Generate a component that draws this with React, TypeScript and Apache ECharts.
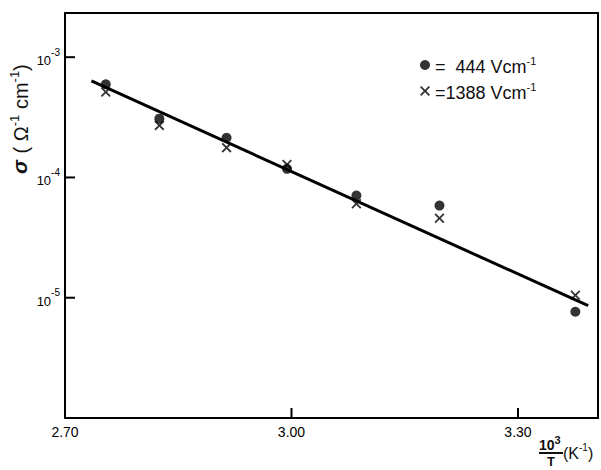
import React, { useEffect, useRef } from "react";
import * as echarts from "echarts";

const xTicks = [2.7, 3.0, 3.3];
const yDecades = [1e-3, 1e-4, 1e-5];
const tempX = [2.754, 2.825, 2.914, 2.994, 3.086, 3.196, 3.376];
const sigma444 = [5.96e-4, 3.08e-4, 2.14e-4, 1.18e-4, 7.08e-5, 5.84e-5, 7.64e-6];
const sigma1388 = [5.14e-4, 2.71e-4, 1.77e-4, 1.28e-4, 6.04e-5, 4.58e-5, 1.05e-5];
const fitX = [2.735, 3.393];
const fitY = [6.34e-4, 8.58e-6];
const seriesNames = ["444", "1388"];

const CROSS = "path://M0,1.3 L1.3,0 L5,3.7 L8.7,0 L10,1.3 L6.3,5 L10,8.7 L8.7,10 L5,6.3 L1.3,10 L0,8.7 L3.7,5 Z";
const FONT = "Liberation Sans";

export default function App() {
  const ref = useRef<HTMLDivElement>(null);
  useEffect(() => {
    document.body.style.margin = "0";
    const chart = echarts.init(ref.current!, null, { renderer: "svg" });
    const expOf = (v: number) => Math.round(Math.log10(v));
    const xRange = { min: 2.7, max: 3.406, interval: 0.3 };
    const yRange = { min: 1e-6, max: 2.33e-3 };
    const frameLine = { show: true, onZero: false, lineStyle: { color: "#000", width: 2 } };
    const tickLen = 10;
    const staticGraphics: any[] = [
      {
        type: "text",
        x: 7,
        y: 174,
        rotation: Math.PI / 2,
        style: {
          text: "{g|σ}  {t|( Ω}{s|-1}{t| cm}{s|-1}{t|)}",
          rich: {
            g: { fontFamily: FONT, fontSize: 21, fontStyle: "italic", fontWeight: "bold", fill: "#111" },
            t: { fontFamily: FONT, fontSize: 20, fill: "#111", padding: [4, 0, 0, 0] },
            s: { fontFamily: FONT, fontSize: 13, fill: "#111", padding: [0, 0, 10, 0] },
          },
        },
      },
      {
        type: "text",
        x: 539,
        y: 434,
        style: {
          text: "{t|10}{s|3}",
          rich: {
            t: { fontFamily: FONT, fontSize: 14, fontWeight: "bold", fill: "#111", padding: [4, 0, 0, 0] },
            s: { fontFamily: FONT, fontSize: 11, fontWeight: "bold", fill: "#111", padding: [0, 0, 6, 0] },
          },
        },
      },
      { type: "line", shape: { x1: 539, y1: 453, x2: 563, y2: 453 }, style: { stroke: "#111", lineWidth: 2 } },
      {
        type: "text",
        x: 547,
        y: 455,
        style: { text: "T", fontFamily: FONT, fontSize: 13, fontWeight: "bold", fill: "#111" },
      },
      {
        type: "text",
        x: 563,
        y: 441,
        style: {
          text: "{t|(K}{s|-1}{t|)}",
          rich: {
            t: { fontFamily: FONT, fontSize: 16, fill: "#111", padding: [4, 0, 0, 0] },
            s: { fontFamily: FONT, fontSize: 10, fill: "#111", padding: [0, 0, 7, 0] },
          },
        },
      },
    ];
    chart.setOption({
      animation: false,
      backgroundColor: "#fff",
      grid: { left: 65, top: 13, right: 3, bottom: 52, show: false },
      xAxis: [
        {
          type: "value",
          ...xRange,
          splitLine: { show: false },
          axisLine: frameLine,
          axisTick: { show: false },
          axisLabel: {
            showMaxLabel: false,
            margin: 7,
            color: "#000",
            fontFamily: FONT,
            fontSize: 14,
            formatter: (v: number) => (xTicks.some((t) => Math.abs(t - v) < 1e-6) ? v.toFixed(2) : ""),
          },
        },
        {
          type: "value",
          position: "top",
          ...xRange,
          splitLine: { show: false },
          axisLine: frameLine,
          axisTick: { show: false },
          axisLabel: { show: false },
        },
      ],
      yAxis: [
        {
          type: "log",
          logBase: 10,
          ...yRange,
          splitLine: { show: false },
          axisLine: frameLine,
          axisTick: { show: false },
          axisLabel: {
            showMaxLabel: false,
            showMinLabel: false,
            margin: 5,
            color: "#000",
            fontFamily: FONT,
            formatter: (v: number) => {
              const ok = yDecades.some((d) => Math.abs(Math.log10(d) - Math.log10(v)) < 1e-6);
              return ok ? `{b|10}{s|${expOf(v)}}` : "";
            },
            rich: {
              b: { fontFamily: FONT, fontSize: 13, color: "#000", verticalAlign: "bottom", padding: [7, 0, 0, 0] },
              s: { fontFamily: FONT, fontSize: 10, color: "#000", verticalAlign: "top", padding: [0, 0, 6, 0] },
            },
          },
        },
        {
          type: "log",
          logBase: 10,
          position: "right",
          ...yRange,
          splitLine: { show: false },
          axisLine: frameLine,
          axisTick: { show: false },
          axisLabel: { show: false },
        },
      ],
      legend: {
        orient: "vertical",
        left: 415,
        top: 50,
        itemWidth: 10,
        itemHeight: 10,
        itemGap: 5,
        data: [
          { name: seriesNames[0], icon: "circle" },
          { name: seriesNames[1], icon: CROSS },
        ],
        formatter: (n: string) => (n === "444" ? `{t|=  444 Vcm}{s|-1}` : `{t|=1388 Vcm}{s|-1}`),
        textStyle: {
          rich: {
            t: { fontFamily: FONT, fontSize: 18, color: "#111", padding: [4, 0, 0, 0] },
            s: { fontFamily: FONT, fontSize: 11, color: "#111", padding: [0, 0, 9, 0] },
          },
        },
      },
      series: [
        {
          type: "line",
          name: "fit",
          data: fitX.map((x, i) => [x, fitY[i]]),
          symbol: "none",
          lineStyle: { color: "#000", width: 3 },
          z: 1,
        },
        {
          type: "scatter",
          name: seriesNames[0],
          data: tempX.map((x, i) => [x, sigma444[i]]),
          symbol: "circle",
          symbolSize: 10,
          itemStyle: { color: "#000" },
          z: 3,
        },
        {
          type: "scatter",
          name: seriesNames[1],
          data: tempX.map((x, i) => [x, sigma1388[i]]),
          symbol: CROSS,
          symbolSize: 10,
          itemStyle: { color: "#000" },
          z: 3,
        },
      ],
      graphic: staticGraphics,
    });
    try {
      const tickGraphics: any[] = [];
      xTicks
        .filter((t) => t > xRange.min)
        .forEach((t) => {
          const p = chart.convertToPixel({ gridIndex: 0 } as any, [t, yRange.min]) as number[];
          tickGraphics.push({
            type: "line",
            z: 100,
            shape: { x1: p[0], y1: p[1], x2: p[0], y2: p[1] - tickLen },
            style: { stroke: "#000", lineWidth: 2 },
          });
        });
      yDecades.forEach((d) => {
        const p = chart.convertToPixel({ gridIndex: 0 } as any, [xRange.min, d]) as number[];
        tickGraphics.push({
          type: "line",
          z: 100,
          shape: { x1: p[0], y1: p[1], x2: p[0] + tickLen, y2: p[1] },
          style: { stroke: "#000", lineWidth: 2 },
        });
      });
      chart.setOption({ graphic: staticGraphics.concat(tickGraphics) });
    } catch (e) {
      // keep chart without ticks
    }
    return () => chart.dispose();
  }, []);
  return <div ref={ref} style={{ width: 601, height: 470 }} />;
}
